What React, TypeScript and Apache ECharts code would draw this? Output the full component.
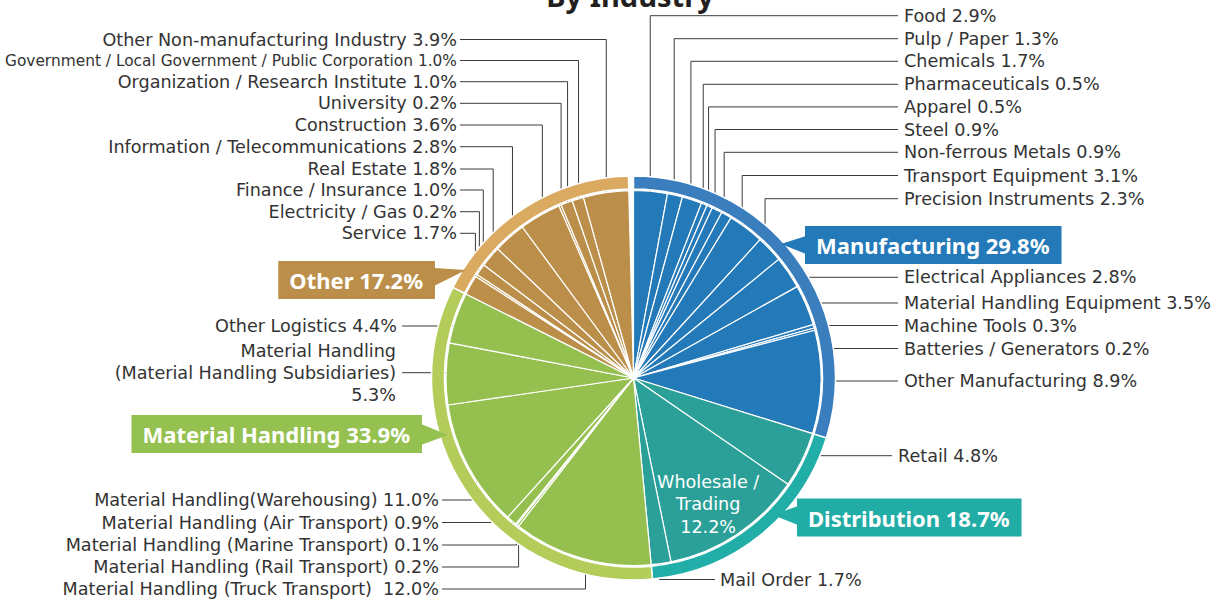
import React, { useEffect, useRef } from 'react';
import * as echarts from 'echarts';

// ---------------- data ----------------
const groupNames = ['Manufacturing', 'Distribution', 'Material Handling', 'Other'];
const groupValues = [29.8, 18.7, 33.9, 17.2];

const manufacturingNames = [
  'Food', 'Pulp / Paper', 'Chemicals', 'Pharmaceuticals', 'Apparel', 'Steel',
  'Non-ferrous Metals', 'Transport Equipment', 'Precision Instruments',
  'Electrical Appliances', 'Material Handling Equipment', 'Machine Tools',
  'Batteries / Generators', 'Other Manufacturing',
];
const manufacturingValues = [2.9, 1.3, 1.7, 0.5, 0.5, 0.9, 0.9, 3.1, 2.3, 2.8, 3.5, 0.3, 0.2, 8.9];

const distributionNames = ['Retail', 'Wholesale / Trading', 'Mail Order'];
const distributionValues = [4.8, 12.2, 1.7];

const materialHandlingNames = [
  'Material Handling (Truck Transport) ', 'Material Handling (Rail Transport)',
  'Material Handling (Marine Transport)', 'Material Handling (Air Transport)',
  'Material Handling(Warehousing)', 'Material Handling (Material Handling Subsidiaries)',
  'Other Logistics',
];
const materialHandlingValues = [12.0, 0.2, 0.1, 0.9, 11.0, 5.3, 4.4];

const otherNames = [
  'Service', 'Electricity / Gas', 'Finance / Insurance', 'Real Estate',
  'Information / Telecommunications', 'Construction', 'University',
  'Organization / Research Institute', 'Government / Local Government / Public Corporation',
  'Other Non-manufacturing Industry',
];
const otherValues = [1.7, 0.2, 1.0, 1.8, 2.8, 3.6, 0.2, 1.0, 1.0, 3.9];

// ---------------- styles / layout ----------------
const innerColors = ['#2479b8', '#2ba098', '#95c050', '#bb8f4a'];
const ringColors = ['#3b7ebd', '#22aea8', '#b3cc5a', '#daaa60'];
const calloutColors = ['#2479b8', '#22aca6', '#95c150', '#bb8f4a'];

const CX = 633.5;
const CY = 378;
const R_IN = 187.5;
const TEXT = '#333333';
const FONT = 'DejaVu Sans';
const BOLD_FONT = 'Noto Sans';

type Place = {
  side: 'L' | 'R';
  y: number;
  mode: 'elbow' | 'flat' | 'inside';
  end?: number;
  tx?: number;
  r?: number;
  size?: number;
  stack?: boolean;
  dx?: number;
  dy?: number;
};

const RT = { side: 'R' as const, mode: 'elbow' as const, end: 898, tx: 904 };
const LT = { side: 'L' as const, mode: 'elbow' as const, end: 460, tx: 457 };
const LB = { side: 'L' as const, mode: 'elbow' as const, end: 442, tx: 439 };

const placements: Record<string, Place> = {
  'Food': { ...RT, y: 15.7, r: 184 },
  'Pulp / Paper': { ...RT, y: 38.7, r: 184 },
  'Chemicals': { ...RT, y: 61.3, r: 184 },
  'Pharmaceuticals': { ...RT, y: 84.3, r: 185 },
  'Apparel': { ...RT, y: 106.9, r: 185 },
  'Steel': { ...RT, y: 129.5, r: 183 },
  'Non-ferrous Metals': { ...RT, y: 152.3, r: 183 },
  'Transport Equipment': { ...RT, y: 175.5, r: 181 },
  'Precision Instruments': { ...RT, y: 198.7, r: 181 },
  'Electrical Appliances': { side: 'R', mode: 'flat', y: 277.3, end: 898, tx: 904, r: 178 },
  'Material Handling Equipment': { side: 'R', mode: 'flat', y: 303, end: 898, tx: 904, r: 178 },
  'Machine Tools': { side: 'R', mode: 'flat', y: 325.5, end: 898, tx: 904, r: 186 },
  'Batteries / Generators': { side: 'R', mode: 'elbow', y: 348.5, end: 898, tx: 904, r: 187 },
  'Other Manufacturing': { side: 'R', mode: 'flat', y: 381, end: 898, tx: 904, r: 178 },
  'Retail': { side: 'R', mode: 'flat', y: 455.7, end: 892, tx: 898, r: 168 },
  'Wholesale / Trading': { side: 'R', mode: 'inside', y: 0, r: 148, dx: -7, dy: 3 },
  'Mail Order': { side: 'R', mode: 'elbow', y: 579.5, end: 715, tx: 720, r: 178 },
  'Material Handling (Truck Transport) ': { ...LB, y: 589, r: 172 },
  'Material Handling (Rail Transport)': { ...LB, y: 567, r: 186 },
  'Material Handling (Marine Transport)': { ...LB, y: 545, r: 187 },
  'Material Handling (Air Transport)': { ...LB, y: 522.5, r: 184 },
  'Material Handling(Warehousing)': { ...LB, y: 500, r: 178 },
  'Material Handling (Material Handling Subsidiaries)': { side: 'L', mode: 'flat', y: 372.7, end: 402, tx: 396, r: 178, stack: true },
  'Other Logistics': { side: 'L', mode: 'flat', y: 326, end: 402, tx: 397, r: 178 },
  'Service': { ...LT, y: 233.3, r: 182 },
  'Electricity / Gas': { ...LT, y: 211.7, r: 184 },
  'Finance / Insurance': { ...LT, y: 190, r: 184 },
  'Real Estate': { ...LT, y: 169, r: 184 },
  'Information / Telecommunications': { ...LT, y: 146.7, r: 183 },
  'Construction': { ...LT, y: 125, r: 183 },
  'University': { ...LT, y: 103.3, r: 185 },
  'Organization / Research Institute': { ...LT, y: 81.7, r: 185 },
  'Government / Local Government / Public Corporation': { ...LT, y: 60.5, r: 185, size: 15.4 },
  'Other Non-manufacturing Industry': { ...LT, y: 39.5, r: 185 },
};

// callouts for the outer ring (box edge x / middle y, align) and pointer triangles
const calloutPlaces = [
  { x: 805, y: 245, align: 'left', tri: [[806, 236], [781, 244], [806, 254]] },
  { x: 797, y: 517.5, align: 'left', tri: [[798, 506], [773, 515], [798, 525]] },
  { x: 422, y: 434, align: 'right', tri: [[421, 424], [448, 435], [421, 445]] },
  { x: 435, y: 280, align: 'right', tri: [[434, 268], [466, 270], [434, 286]] },
];

const groupsInner = [
  { names: manufacturingNames, values: manufacturingValues },
  { names: distributionNames, values: distributionValues },
  { names: materialHandlingNames, values: materialHandlingValues },
  { names: otherNames, values: otherValues },
];

export default function App() {
  const ref = useRef<HTMLDivElement>(null);

  useEffect(() => {
    if (!ref.current) return;
    const chart = echarts.init(ref.current, undefined, { renderer: 'svg' });

    const total = groupValues.reduce((a, b) => a + b, 0);
    const remainder = Math.max(0, +(100 - total).toFixed(1));

    const innerNames: string[] = [];
    const innerData: any[] = [];
    groupsInner.forEach((g, gi) => {
      g.names.forEach((n, i) => {
        innerNames.push(n);
        const p = placements[n];
        const item: any = {
          name: n,
          value: g.values[i],
          itemStyle: { color: innerColors[gi] },
        };
        if (p && p.mode === 'inside') {
          item.label = {
            position: 'inside',
            color: '#ffffff',
            align: 'center',
            lineHeight: 22.5,
            formatter: () => `Wholesale /\nTrading\n${g.values[i].toFixed(1)}%`,
          };
          item.labelLine = { show: false };
        }
        if (p && p.size) item.label = { fontSize: p.size };
        innerData.push(item);
      });
    });
    const gapItem = {
      name: '',
      value: remainder,
      itemStyle: { color: 'rgba(0,0,0,0)', borderWidth: 0 },
      label: { show: false },
      labelLine: { show: false },
    };
    innerData.push(gapItem);

    // mid angles (clockwise from 12 o'clock) from the data
    const innerSum = innerData.reduce((a, d) => a + d.value, 0);
    const midAngles: number[] = [];
    let cum = 0;
    innerData.forEach((d) => {
      midAngles.push(((cum + d.value / 2) / innerSum) * Math.PI * 2);
      cum += d.value;
    });

    const ringData: any[] = groupNames.map((n, i) => ({
      name: n,
      value: groupValues[i],
      itemStyle: { color: ringColors[i] },
      label: { backgroundColor: calloutColors[i] },
    }));
    ringData.push({ ...gapItem });

    const option: any = {
      animation: false,
      textStyle: { fontFamily: FONT },
      graphic: [
        {
          type: 'text',
          x: 630,
          y: 10,
          style: {
            text: 'By Industry',
            fontSize: 29,
            fontWeight: 'bold',
            fontFamily: BOLD_FONT,
            fill: '#231f20',
            align: 'center',
            verticalAlign: 'bottom',
          },
        },
        ...calloutPlaces.map((c, i) => ({
          type: 'polygon',
          shape: { points: c.tri },
          style: { fill: calloutColors[i] },
          z: 100,
        })),
      ],
      series: [
        {
          type: 'pie',
          name: 'inner',
          center: [CX, CY],
          radius: [0, R_IN],
          startAngle: 90,
          clockwise: true,
          avoidLabelOverlap: false,
          silent: true,
          itemStyle: { borderColor: '#ffffff', borderWidth: 1.2 },
          label: {
            show: true,
            position: 'outside',
            color: TEXT,
            fontSize: 17.6,
            fontFamily: FONT,
            overflow: 'none',
            lineHeight: 22,
            formatter: (p: any) => {
              const pl = placements[p.name];
              if (pl && pl.stack) {
                const k = p.name.indexOf(' (');
                return `${p.name.slice(0, k)}\n${p.name.slice(k + 1)}\n${p.value.toFixed(1)}%`;
              }
              return `${p.name} ${p.value.toFixed(1)}%`;
            },
          },
          labelLine: { show: true, lineStyle: { color: '#3a3a3a', width: 1 } },
          labelLayout: (params: any) => {
            const idx = params.dataIndex;
            const name = innerNames[idx];
            const p = placements[name];
            if (!p) return {};
            const a = midAngles[idx];
            const r = p.r ?? 182;
            const ax = CX + r * Math.sin(a);
            const ay = CY - r * Math.cos(a);
            if (p.mode === 'inside') {
              return {
                x: ax + (p.dx ?? 0),
                y: ay + (p.dy ?? 0),
                align: 'center',
                verticalAlign: 'middle',
              };
            }
            const pts =
              p.mode === 'flat'
                ? [[ax, p.y], [ax, p.y], [p.end, p.y]]
                : [[ax, ay], [ax, p.y], [p.end, p.y]];
            return {
              x: p.tx,
              y: p.y,
              align: p.side === 'R' ? 'left' : 'right',
              verticalAlign: 'middle',
              labelLinePoints: pts,
            };
          },
          data: innerData,
          z: 2,
        },
        {
          type: 'pie',
          name: 'ring',
          center: [CX, CY],
          radius: [189, 202],
          startAngle: 90,
          clockwise: true,
          avoidLabelOverlap: false,
          silent: true,
          itemStyle: { borderColor: '#ffffff', borderWidth: 1.5 },
          label: {
            show: true,
            position: 'outside',
            color: '#ffffff',
            fontSize: 22,
            fontWeight: 'bold',
            fontFamily: BOLD_FONT,
            overflow: 'none',
            padding: [9, 12, 7, 11],
            formatter: (p: any) => `${p.name} ${p.value.toFixed(1)}%`,
          },
          labelLine: { show: false },
          labelLayout: (params: any) => {
            const c = calloutPlaces[params.dataIndex];
            if (!c) return {};
            return { x: c.x, y: c.y, align: c.align, verticalAlign: 'middle' };
          },
          data: ringData,
          z: 3,
        },
      ],
    };

    chart.setOption(option);
    return () => chart.dispose();
  }, []);

  return (
    <div
      ref={ref}
      style={{ position: 'fixed', left: 0, top: 0, width: 1216, height: 601, background: '#ffffff' }}
    />
  );
}
